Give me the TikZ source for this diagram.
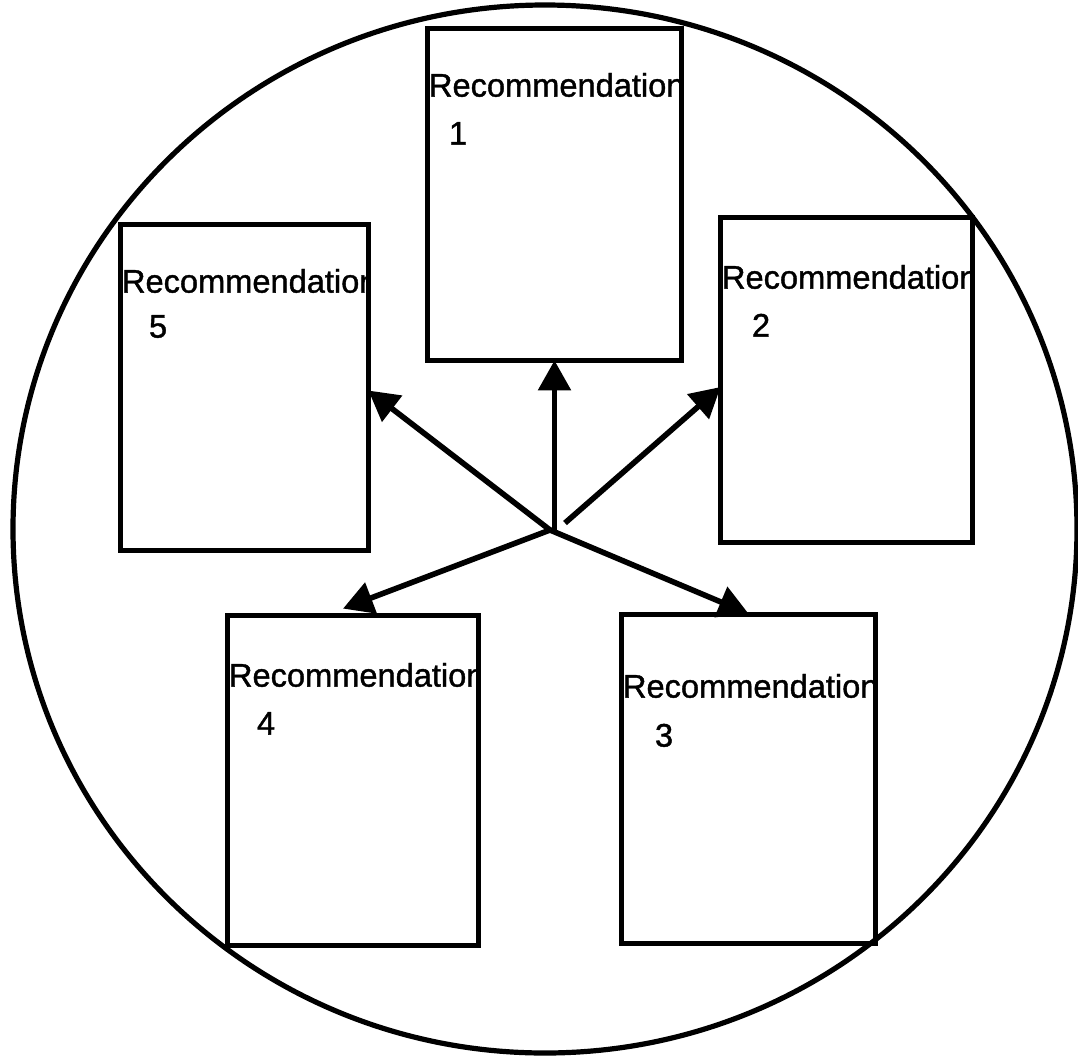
\documentclass[tikz,border=0pt]{standalone}
\usepackage{fontspec}
\setmainfont{Liberation Sans}[FakeBold=1.2]
\newfontfamily\recfont{Liberation Sans}[AutoFakeBold=1.2]
\usetikzlibrary{arrows.meta,fit,calc}
\tikzset{
  recbox/.style={draw, line width=2.3pt, inner sep=0pt},
  rectext/.style={anchor=base west, inner sep=0pt, font=\recfont\fontsize{16.3}{19}\selectfont\bfseries},
  recarrow/.style={line width=2.8pt, -{Triangle[length=15pt,width=16pt]}},
  ring/.style={line width=2.6pt}
}
\begin{document}
\begin{tikzpicture}[x=0.5pt,y=-0.5pt]
\useasboundingbox (0,0) rectangle (1078,1056);
\path[ring,draw] (545,529) ellipse [x radius=532, y radius=524];
% boxes (fit only, drawn later)
\node[inner sep=0pt, fit={(428,29) (681,360)}] (b1) {};
\node[inner sep=0pt, fit={(721,218) (972,542)}] (b2) {};
\node[inner sep=0pt, fit={(622,615) (875,943)}] (b3) {};
\node[inner sep=0pt, fit={(228,616) (478,945)}] (b4) {};
\node[inner sep=0pt, fit={(121,225) (368,550)}] (b5) {};
% texts, clipped to boxes
\foreach \b/\dy/\nx/\ny/\num in {b1/68/21/116/1, b2/71/31/119/2, b3/83/33/132/3, b4/71/29/119/4, b5/68/28/113/5}{
  \begin{scope}
    \clip (\b.north west) rectangle (\b.south east);
    \node[rectext] (t\num) at ($(\b.north west)+(1,\dy)$) {Recommendation};
  \end{scope}
  \node[rectext] (n\num) at ($(\b.north west)+(\nx,\ny)$) {\num};
  \node[recbox, fit=(\b)] {};
}
% arrows
\coordinate (c) at (550,530);
\coordinate (s2) at (565,523);
\draw[recarrow] (c -| b1.south) -- (b1.south);
\draw[recarrow] (c) -- ($(b5.east)+(0,3)$);
\draw[recarrow] (s2) -- ($(b2.west)+(0,7)$);
\draw[recarrow] (c) -- ($(b4.north)+(-10,-7)$);
\draw[recarrow] (c) -- ($(b3.north)+(0,-1)$);
\end{tikzpicture}
\end{document}
